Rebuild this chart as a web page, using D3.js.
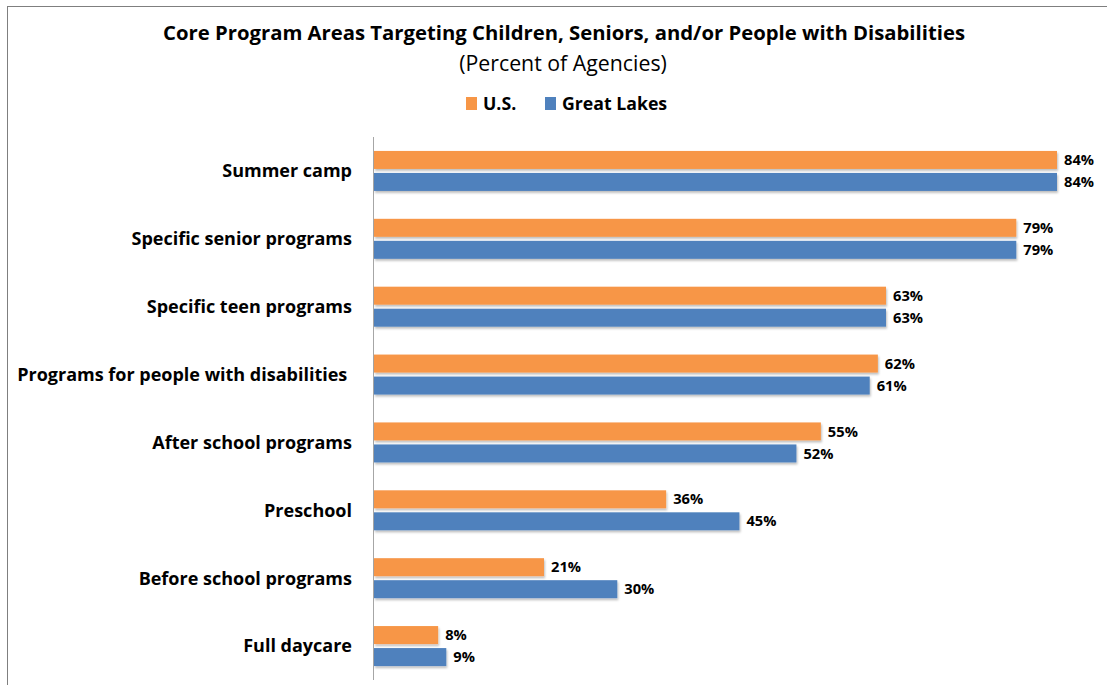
<!DOCTYPE html>
<html>
<head>
<meta charset="utf-8">
<script src="https://cdn.jsdelivr.net/npm/d3@7"></script>
<style>
  body { margin: 0; background: #fff; }
  svg { display: block; }
  text { font-family: "Open Sans", Lato, sans-serif; fill: #000; white-space: pre; }
</style>
</head>
<body>
<svg id="chart" width="1107" height="685"></svg>
<script>
const categories = [
    'Summer camp',
    'Specific senior programs',
    'Specific teen programs',
    'Programs for people with disabilities ',
    'After school programs',
    'Preschool',
    'Before school programs',
    'Full daycare',
];
const usValues = [84, 79, 63, 62, 55, 36, 21, 8];
const greatLakesValues = [84, 79, 63, 61, 52, 45, 30, 9];
const seriesNames = ['U.S.', 'Great Lakes'];
const colors = ['#F79646', '#4F81BD'];

const svg = d3.select('#chart');

// drop shadow for bars
const defs = svg.append('defs');
const shadow = defs.append('filter').attr('id', 'shadow').attr('x', '-5%').attr('y', '-20%').attr('width', '110%').attr('height', '160%');
shadow.append('feDropShadow')
    .attr('dx', 1).attr('dy', 2).attr('stdDeviation', 1)
    .attr('flood-color', '#000').attr('flood-opacity', 0.25);

// chart frame
svg.append('rect')
    .attr('x', 7.5).attr('y', 6.5)
    .attr('width', 1200).attr('height', 1000)
    .attr('fill', 'none').attr('stroke', '#7f7f7f');

const x = d3.scaleLinear().domain([0, 84]).range([373, 1057]);
const y = d3.scaleBand().domain(categories).range([137, 680]);
const barH = 18;
const barGap = 4;

const rows = categories.map((c, i) => ({ name: c, values: [usValues[i], greatLakesValues[i]] }));

// title
svg.append('text')
    .attr('x', 564).attr('y', 40)
    .attr('text-anchor', 'middle')
    .style('font-size', '20.3px').style('font-weight', 'bold')
    .text('Core Program Areas Targeting Children, Seniors, and/or People with Disabilities');
svg.append('text')
    .attr('x', 563).attr('y', 71)
    .attr('text-anchor', 'middle')
    .style('font-size', '21.3px')
    .text('(Percent of Agencies)');

// legend
const legendItems = [{ x: 466, name: seriesNames[0], color: colors[0] },
                     { x: 545, name: seriesNames[1], color: colors[1] }];
const legend = svg.append('g').selectAll('g').data(legendItems).enter().append('g')
    .attr('transform', d => `translate(${d.x}, 97)`);
legend.append('rect').attr('width', 11).attr('height', 13).attr('fill', d => d.color);
legend.append('text')
    .attr('x', 17).attr('y', 13)
    .style('font-size', '17.7px').style('font-weight', 'bold')
    .text(d => d.name);

// axis line
svg.append('line')
    .attr('x1', 373.5).attr('x2', 373.5)
    .attr('y1', y.range()[0]).attr('y2', y.range()[1])
    .attr('stroke', '#a6a6a6').attr('stroke-width', 1);

const groups = svg.append('g').selectAll('g').data(rows).enter().append('g')
    .attr('transform', d => `translate(0, ${y(d.name) + y.bandwidth() / 2})`);

groups.append('text')
    .attr('x', 352).attr('y', 0).attr('dy', '0.35em')
    .attr('text-anchor', 'end')
    .style('font-size', '18px').style('font-weight', 'bold')
    .text(d => d.name);

const bars = groups.selectAll('.bar').data(d => d.values).enter().append('g').classed('bar', true)
    .attr('transform', (_, i) => `translate(0, ${i === 0 ? -barH - barGap / 2 : barGap / 2})`);

bars.append('rect')
    .attr('x', x(0) + 1)
    .attr('y', 0)
    .attr('width', v => x(v) - x(0) - 1)
    .attr('height', barH)
    .attr('fill', (_, i) => colors[i])
    .attr('filter', 'url(#shadow)');

bars.append('text')
    .attr('x', v => x(v) + 7)
    .attr('y', barH / 2).attr('dy', '0.35em')
    .style('font-size', '14.7px').style('font-weight', 'bold')
    .text(v => v + '%');
</script>
</body>
</html>
